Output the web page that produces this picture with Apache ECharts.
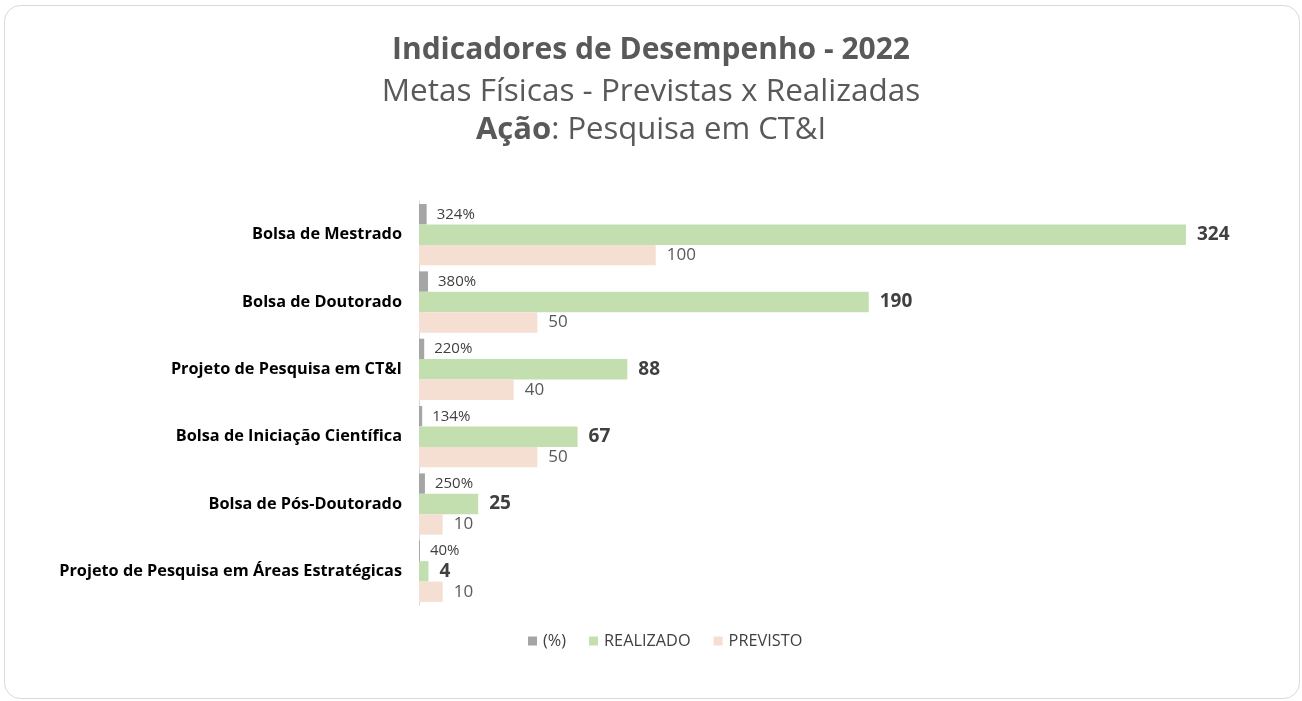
<!DOCTYPE html>
<html>
<head>
<meta charset="utf-8">
<script src="https://cdn.jsdelivr.net/npm/echarts@6/dist/echarts.min.js"></script>
<style>
html,body{margin:0;padding:0;background:#fff;}
#chart{width:1302px;height:701px;}
</style>
</head>
<body>
<div id="chart"></div>
<script>
const categories = [
  'Bolsa de Mestrado',
  'Bolsa de Doutorado',
  'Projeto de Pesquisa em CT&I',
  'Bolsa de Iniciação Científica',
  'Bolsa de Pós-Doutorado',
  'Projeto de Pesquisa em Áreas Estratégicas'
];
const percentValues = [3.24, 3.80, 2.20, 1.34, 2.50, 0.40];
const realizadoValues = [324, 190, 88, 67, 25, 4];
const previstoValues = [100, 50, 40, 50, 10, 10];
const seriesNames = ['(%)', 'REALIZADO', 'PREVISTO'];

const FONT = '"Open Sans", "Noto Sans", sans-serif';
const chart = echarts.init(document.getElementById('chart'), null, {renderer: 'canvas'});
chart.setOption({
  backgroundColor: '#ffffff',
  animation: false,
  textStyle: {fontFamily: FONT},
  graphic: [{
    type: 'rect',
    shape: {x: 4.5, y: 5.5, width: 1295, height: 693, r: 16},
    style: {fill: 'none', stroke: '#d9d9d9', lineWidth: 1},
    silent: true, z: -1
  }],
  title: [
    {text: 'Indicadores de Desempenho - 2022', left: 'center', top: 30,
     textStyle: {fontFamily: FONT, fontSize: 30, fontWeight: 'bold', color: '#595959'}},
    {text: 'Metas Físicas - Previstas x Realizadas', left: 'center', top: 71,
     textStyle: {fontFamily: FONT, fontSize: 31.5, fontWeight: 'normal', color: '#595959'}},
    {text: '{b|Ação}: Pesquisa em CT&I', left: 'center', top: 110,
     textStyle: {fontFamily: FONT, fontSize: 31, fontWeight: 'normal', color: '#595959',
       rich: {b: {fontFamily: FONT, fontSize: 31, fontWeight: 'bold', color: '#595959'}}}}
  ],
  legend: {
    data: seriesNames,
    bottom: 47,
    left: 523,
    itemWidth: 9, itemHeight: 9, itemGap: 23,
    icon: 'rect',
    textStyle: {fontFamily: FONT, fontSize: 16.3, color: '#404040', padding: [0, 0, 0, 1]}
  },
  grid: {left: 419, top: 201, height: 404, right: 54.5, containLabel: false},
  xAxis: {type: 'value', min: 0, max: 350, show: false},
  yAxis: {
    type: 'category', data: categories, inverse: true,
    axisLine: {show: true, lineStyle: {color: '#d9d9d9', width: 1}},
    axisTick: {show: false},
    axisLabel: {margin: 17, fontFamily: FONT, fontSize: 16.3, fontWeight: 'bold', color: '#000000'}
  },
  series: [
    {name: seriesNames[0], type: 'bar', data: percentValues, barGap: '0%', barCategoryGap: '9%',
     itemStyle: {color: '#a5a5a5'},
     label: {show: true, position: 'right', distance: 10, fontFamily: FONT, fontSize: 15, color: '#404040',
       formatter: p => Math.round(p.value * 100) + '%'}},
    {name: seriesNames[1], type: 'bar', data: realizadoValues, barGap: '0%', barCategoryGap: '9%',
     itemStyle: {color: '#c3dfb0'},
     label: {show: true, position: 'right', distance: 11, fontFamily: FONT, fontSize: 19, fontWeight: 'bold', color: '#404040'}},
    {name: seriesNames[2], type: 'bar', data: previstoValues, barGap: '0%', barCategoryGap: '9%',
     itemStyle: {color: '#f5dfd3'},
     label: {show: true, position: 'right', distance: 11, fontFamily: FONT, fontSize: 17, color: '#595959'}}
  ]
});
</script>
</body>
</html>
